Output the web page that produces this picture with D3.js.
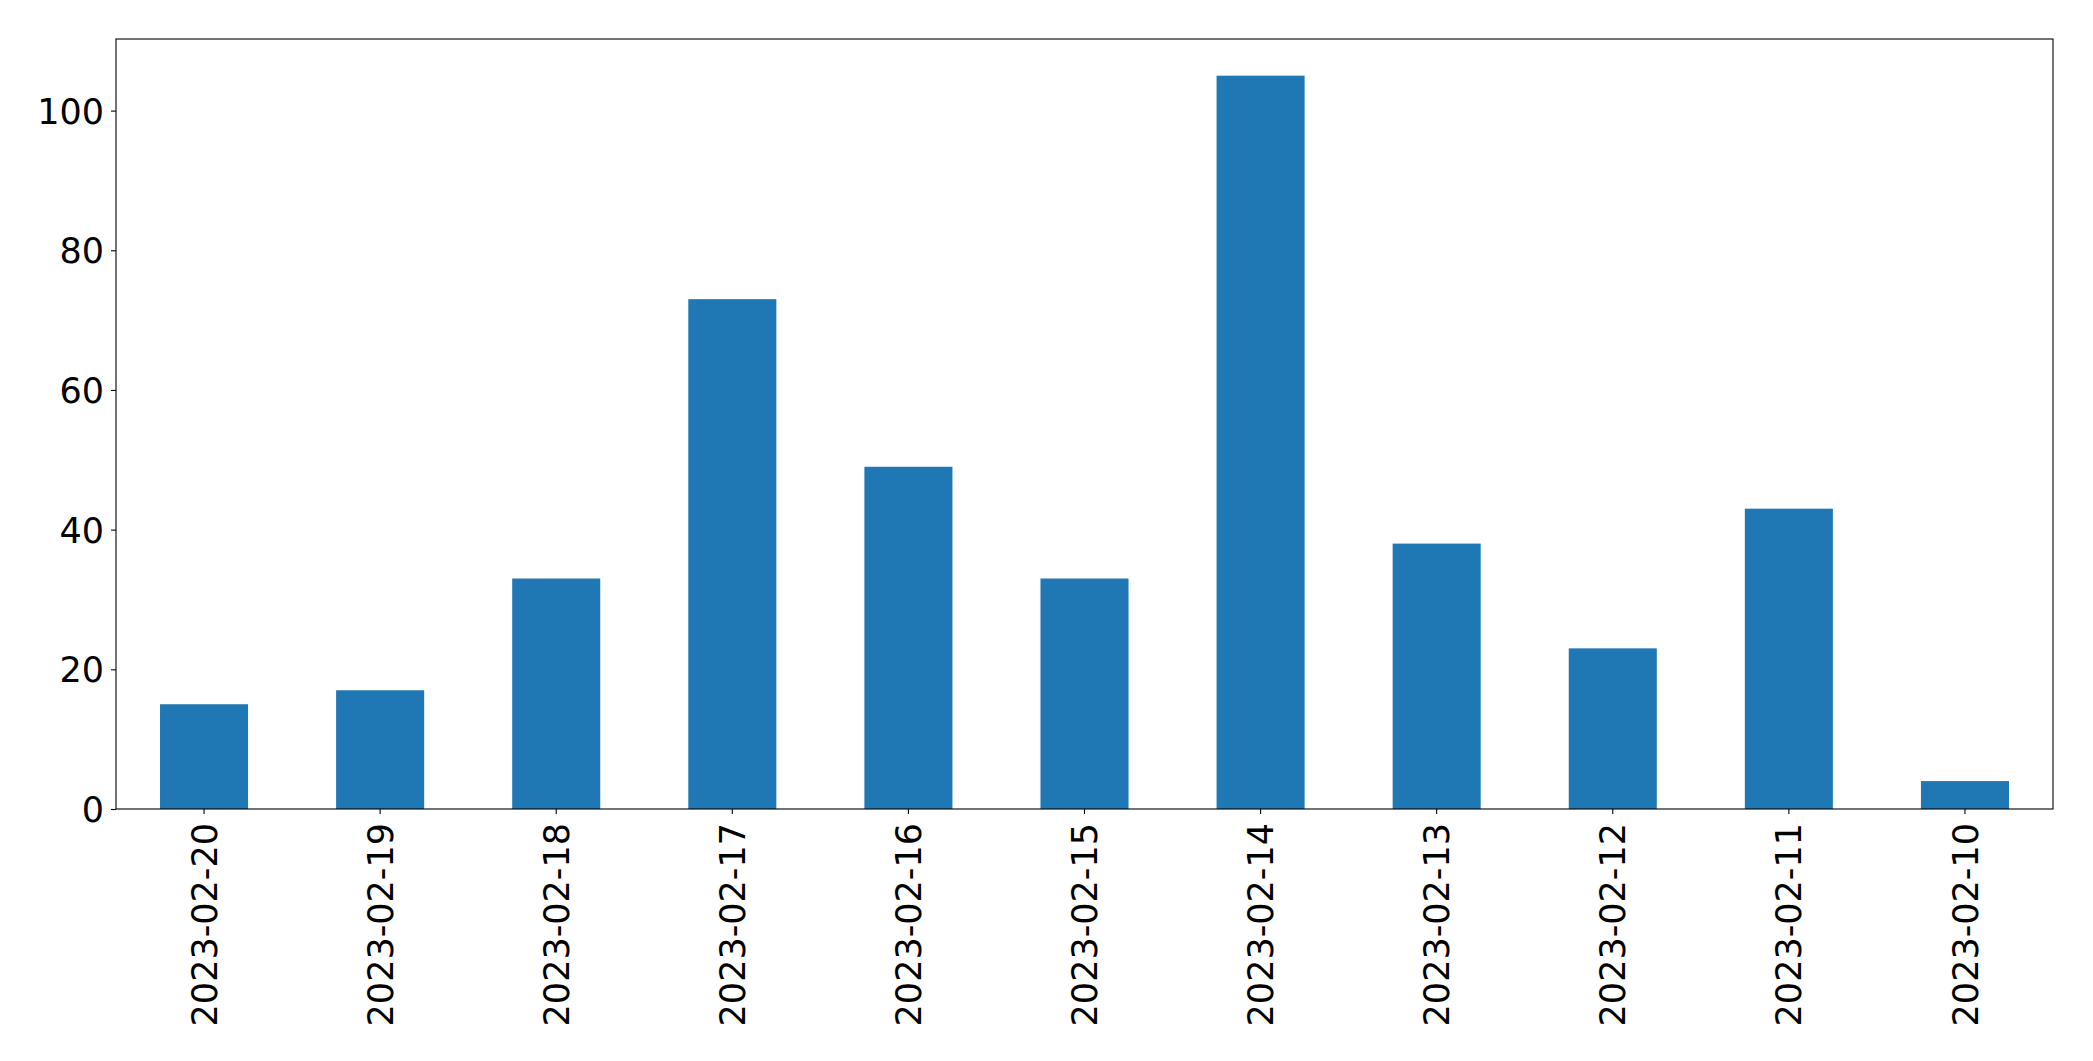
<!DOCTYPE html>
<html>
<head>
<meta charset="utf-8">
<script src="https://cdn.jsdelivr.net/npm/d3@7"></script>
<style>
  html, body { margin: 0; padding: 0; background: #fff; }
  svg { display: block; }
  text { font-family: "DejaVu Sans", sans-serif; fill: #000; }
</style>
</head>
<body>
<script>
const categories = ["2023-02-20","2023-02-19","2023-02-18","2023-02-17","2023-02-16","2023-02-15","2023-02-14","2023-02-13","2023-02-12","2023-02-11","2023-02-10"];
const values = [15, 17, 33, 73, 49, 33, 105, 38, 23, 43, 4];
const yTicks = [0, 20, 40, 60, 80, 100];

const W = 2093, H = 1061;
const margin = { left: 116, top: 39, right: W - 2053, bottom: H - 809 };
const iw = W - margin.left - margin.right;
const ih = H - margin.top - margin.bottom;

const svg = d3.select("body").append("svg").attr("width", W).attr("height", H);
const g = svg.append("g").attr("transform", `translate(${margin.left},${margin.top})`);

const x = d3.scaleBand().domain(categories).range([0, iw]).paddingInner(0.5).paddingOuter(0.25);
const y = d3.scaleLinear().domain([0, d3.max(values) * 1.05]).range([ih, 0]);

g.selectAll("rect.bar").data(values).join("rect")
  .attr("class", "bar")
  .attr("x", (d, i) => x(categories[i]))
  .attr("width", x.bandwidth())
  .attr("y", d => y(d))
  .attr("height", d => y(0) - y(d))
  .attr("fill", "#1f77b4");

const yAxis = g.append("g").call(d3.axisLeft(y).tickValues(yTicks).tickSize(5).tickPadding(7).tickFormat(d3.format("d")));
yAxis.select(".domain").remove();
yAxis.selectAll("line").attr("stroke", "#000").attr("stroke-width", 1.1);
yAxis.selectAll("text").style("font-size", "35px").attr("dy", "0.36em");

const xAxis = g.append("g").attr("transform", `translate(0,${ih})`)
  .call(d3.axisBottom(x).tickSize(5).tickPadding(6));
xAxis.select(".domain").remove();
xAxis.selectAll("line").attr("stroke", "#000").attr("stroke-width", 1.1);
xAxis.selectAll("text")
  .style("font-size", "35px")
  .attr("text-anchor", "end")
  .attr("transform", "rotate(-90)")
  .attr("x", -14)
  .attr("y", 0)
  .attr("dy", "0.36em");

g.append("rect").attr("x", 0).attr("y", 0).attr("width", iw).attr("height", ih)
  .attr("fill", "none").attr("stroke", "#000").attr("stroke-width", 1.1);
</script>
</body>
</html>
